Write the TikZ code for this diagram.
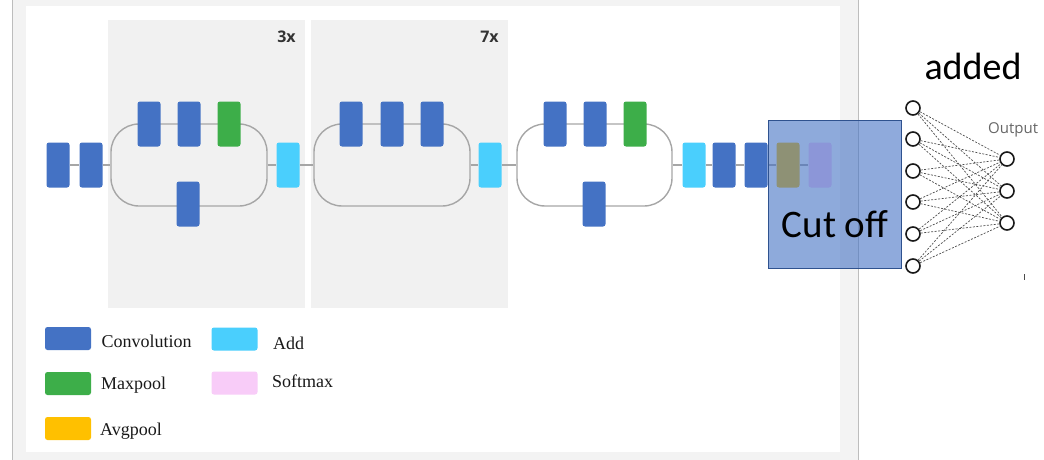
\documentclass[tikz,border=0pt]{standalone}
\usepackage{fontspec}
\setmainfont{Liberation Serif}
\newfontfamily\carlito{Carlito}
\newfontfamily\opensans{Open Sans}
\definecolor{conv}{HTML}{4472C4}
\definecolor{maxp}{HTML}{3DAE49}
\definecolor{addc}{HTML}{4ACFFD}
\definecolor{softc}{HTML}{F8CCF8}
\definecolor{avgc}{HTML}{FFC000}
\definecolor{panel}{HTML}{F1F1F1}
\definecolor{outerg}{HTML}{F3F3F3}
\definecolor{borderg}{HTML}{BDBDBD}
\definecolor{lineg}{HTML}{A6A6A6}
\definecolor{cutfill}{HTML}{4472C4}
\definecolor{cutdraw}{HTML}{2F528F}
\tikzset{
  blk/.style={rectangle, rounded corners=2.5pt, minimum width=23, minimum height=45, inner sep=0, draw=none},
  leg/.style={rectangle, rounded corners=2.5pt, minimum width=46, minimum height=23, inner sep=0, draw=none},
  loopbox/.style={rectangle, rounded corners=28pt, draw=lineg, line width=1.4pt, minimum height=82, inner sep=0},
  conn/.style={draw=lineg, line width=1.4pt},
  legtext/.style={anchor=base west, inner sep=0, text=black!90, font=\fontsize{18}{20}\selectfont},
  reptext/.style={anchor=base, inner sep=0, text=black!80, font=\opensans\bfseries\fontsize{16}{18}\selectfont},
  neuron/.style={circle, draw=black!90, line width=1.6pt, fill=white, minimum size=14, inner sep=0},
  syn/.style={draw=black!70, line width=0.7pt, dash pattern=on 2pt off 1.5pt},
}
\begin{document}
\begin{tikzpicture}[x=1pt,y=-1pt]
\useasboundingbox (0,0) rectangle (1044,460);
% frame of the embedded figure
\fill[outerg] (12,0) rectangle (858,460);
\fill[white] (26,6) rectangle (840,452);
\draw[borderg, line width=1pt] (12,0) -- (12,460);
\draw[borderg, line width=1pt] (858,0) -- (858,460);
% repeated-block panels
\fill[panel] (108,20) rectangle (305,308);
\fill[panel] (311,20) rectangle (508,308);
\node[reptext] (t3) at (286.5,43) {3x};
\node[reptext] (t7) at (489.5,43) {7x};
% loops
\node[loopbox, minimum width=156] (L1) at (189,165) {};
\node[loopbox, minimum width=156] (L2) at (392,165) {};
\node[loopbox, minimum width=155] (L3) at (594.5,165) {};
% stem
\node[blk, fill=conv] (s1) at (58,165) {};
\node[blk, fill=conv] (s2) at (91,165) {};
% block 1
\node[blk, fill=conv] (c11) at (149,124) {};
\node[blk, fill=conv] (c12) at (189,124) {};
\node[blk, fill=maxp] (m1) at (229,124) {};
\node[blk, fill=conv] (c13) at (188,204) {};
\node[blk, fill=addc] (a1) at (288,165) {};
% block 2
\node[blk, fill=conv] (c21) at (351,124) {};
\node[blk, fill=conv] (c22) at (392,124) {};
\node[blk, fill=conv] (c23) at (432,124) {};
\node[blk, fill=addc] (a2) at (490,165) {};
% block 3
\node[blk, fill=conv] (c31) at (555,124) {};
\node[blk, fill=conv] (c32) at (595,124) {};
\node[blk, fill=maxp] (m3) at (635,124) {};
\node[blk, fill=conv] (c33) at (594,204) {};
% tail
\node[blk, fill=addc] (a3) at (694,165) {};
\node[blk, fill=conv] (c4) at (724,165) {};
\node[blk, fill=conv] (c5) at (756,165) {};
\node[blk, fill=avgc] (avg) at (788,165) {};
\node[blk, fill=softc] (sm) at (820,165) {};
% connectors
\draw[conn] (s1.east) -- (s2.west);
\draw[conn] (s2.east) -- (L1.west);
\draw[conn] (L1.east) -- (a1.west);
\draw[conn] (a1.east) -- (L2.west);
\draw[conn] (L2.east) -- (a2.west);
\draw[conn] (a2.east) -- (L3.west);
\draw[conn] (L3.east) -- (a3.west);
\draw[conn] (a3.east) -- (c4.west);
\draw[conn] (c4.east) -- (c5.west);
\draw[conn] (c5.east) -- (avg.west);
\draw[conn] (avg.east) -- (sm.west);
% legend
\node[leg, fill=conv] (lc) at (68,338.5) {};
\node[leg, fill=maxp] (lm) at (68,383.5) {};
\node[leg, fill=avgc] (la) at (68,428.5) {};
\node[leg, fill=addc] (ld) at (234.5,339) {};
\node[leg, fill=softc] (ls) at (234.5,383) {};
\node[legtext] (tc) at (101.5,347) {Convolution};
\node[legtext] (tm) at (101,389) {Maxpool};
\node[legtext] (ta) at (100,435) {Avgpool};
\node[legtext] (td) at (273,349) {Add};
\node[legtext] (ts) at (272,387) {Softmax};
% cut-off overlay
\node[draw=cutdraw, line width=0.8pt, fill=cutfill, fill opacity=0.6, draw opacity=1,
      minimum width=133, minimum height=148, inner sep=0] (cut) at (834.5,194) {};
\node[anchor=base, inner sep=0, font=\carlito\fontsize{39}{44}\selectfont] (cuttext) at (835,237) {Cut off};
% added layer
\node[anchor=base, inner sep=0, font=\carlito\fontsize{38}{44}\selectfont] (added) at (973,80) {added};
\node[neuron] (i1) at (913,108) {};
\node[neuron] (i2) at (913,139) {};
\node[neuron] (i3) at (913,171) {};
\node[neuron] (i4) at (913,202) {};
\node[neuron] (i5) at (913,234) {};
\node[neuron] (i6) at (913,266) {};
\node[neuron] (o1) at (1007,159) {};
\node[neuron] (o2) at (1007,191) {};
\node[neuron] (o3) at (1007,223) {};
\foreach \i in {1,...,6}{
  \foreach \o in {1,2,3}{
    \draw[syn] (i\i) -- (o\o);
  }
}
\node[anchor=west, inner sep=0, text=black!60, font=\opensans\fontsize{15}{17}\selectfont] (outlbl) at (988,130) {Output};
\coordinate (tk1) at (1024,274);
\coordinate (tk2) at (1024,280);
\draw[black!70, line width=0.8pt] (tk1) -- (tk2);
\end{tikzpicture}
\end{document}
